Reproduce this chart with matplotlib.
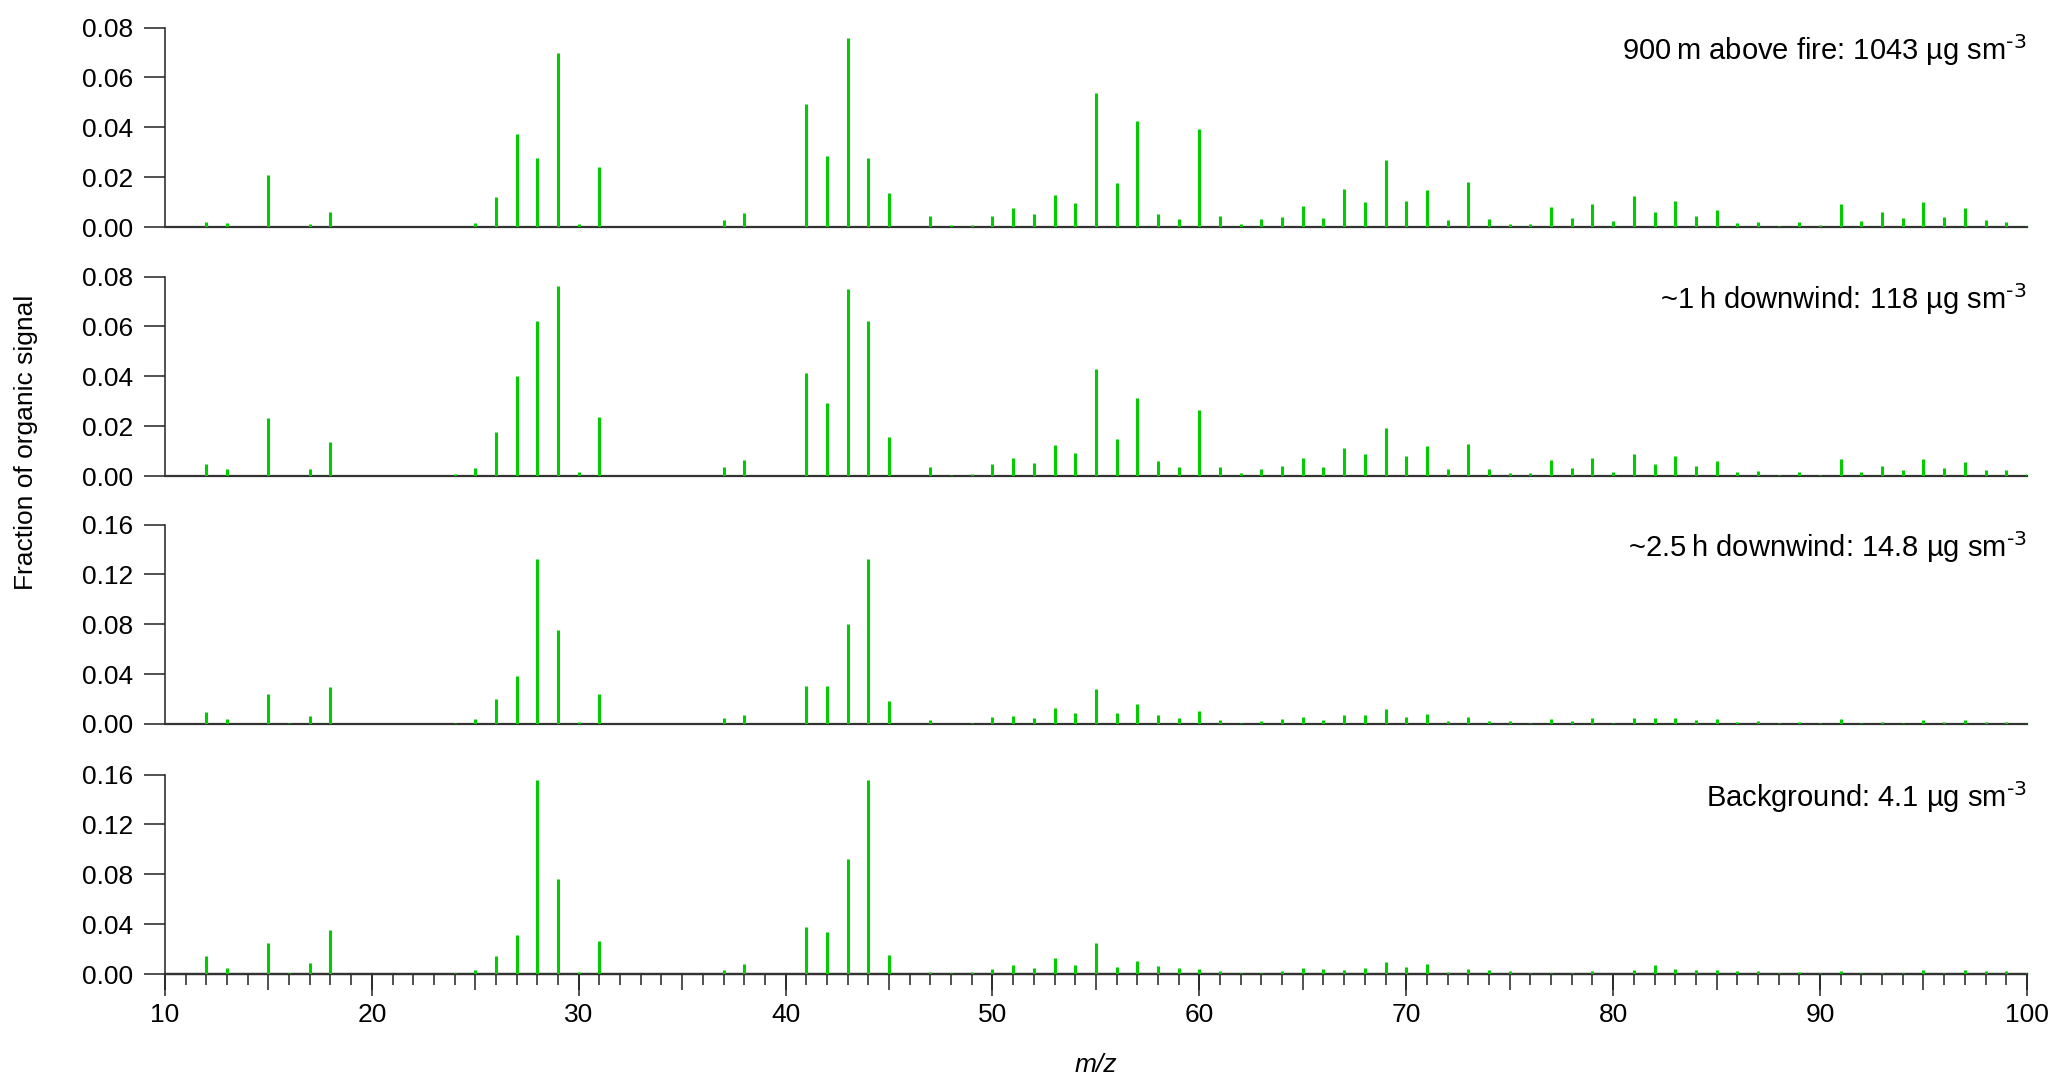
import numpy as np
import matplotlib
matplotlib.use('Agg')
import matplotlib.pyplot as plt
from matplotlib.ticker import MultipleLocator, FormatStrFormatter

plt.rcParams['font.family'] = ['Liberation Sans', 'DejaVu Sans']
plt.rcParams['mathtext.default'] = 'regular'

# m/z 12 .. 100
mz = list(range(12, 101))

# 900 m above fire
above_fire = [
    0.0019, 0.0016, 0, 0.0207, 0, 0.0013, 0.0060, 0, 0, 0,
    0, 0, 0.0002, 0.0017, 0.0119, 0.0374, 0.0277, 0.0697, 0.0013, 0.0239,
    0, 0, 0, 0, 0, 0.0027, 0.0056, 0, 0, 0.0495,
    0.0283, 0.0760, 0.0277, 0.0137, 0, 0.0043, 0.0007, 0.0007, 0.0043, 0.0078,
    0.0052, 0.0130, 0.0097, 0.0537, 0.0177, 0.0424, 0.0054, 0.0031, 0.0392, 0.0046,
    0.0013, 0.0031, 0.0039, 0.0085, 0.0036, 0.0153, 0.0101, 0.0268, 0.0105, 0.0149,
    0.0028, 0.0181, 0.0034, 0.0011, 0.0011, 0.0079, 0.0035, 0.0091, 0.0026, 0.0126,
    0.0060, 0.0103, 0.0046, 0.0067, 0.0016, 0.0020, 0.0005, 0.0020, 0.0007, 0.0093,
    0.0023, 0.0060, 0.0035, 0.0101, 0.0040, 0.0077, 0.0028, 0.0020, 0.0005,
]

# ~1 h downwind
downwind_1h = [
    0.0048, 0.0028, 0, 0.0231, 0, 0.0030, 0.0137, 0, 0, 0,
    0, 0, 0.0007, 0.0031, 0.0177, 0.0403, 0.0621, 0.0764, 0.0015, 0.0235,
    0, 0, 0, 0, 0, 0.0036, 0.0065, 0, 0, 0.0415,
    0.0292, 0.0748, 0.0621, 0.0155, 0, 0.0038, 0.0005, 0.0009, 0.0048, 0.0074,
    0.0054, 0.0126, 0.0093, 0.0428, 0.0147, 0.0312, 0.0060, 0.0035, 0.0266, 0.0038,
    0.0012, 0.0028, 0.0039, 0.0073, 0.0036, 0.0114, 0.0090, 0.0194, 0.0082, 0.0121,
    0.0028, 0.0128, 0.0028, 0.0012, 0.0012, 0.0066, 0.0031, 0.0071, 0.0017, 0.0090,
    0.0050, 0.0079, 0.0040, 0.0059, 0.0015, 0.0019, 0.0005, 0.0016, 0.0005, 0.0070,
    0.0017, 0.0040, 0.0026, 0.0069, 0.0034, 0.0058, 0.0026, 0.0023, 0.0007,
]

# ~2.5 h downwind
downwind_2h5 = [
    0.0096, 0.0043, 0, 0.0244, 0.0005, 0.0067, 0.0295, 0, 0, 0,
    0, 0, 0.0008, 0.0038, 0.0204, 0.0383, 0.1327, 0.0750, 0.0016, 0.0239,
    0, 0, 0, 0, 0, 0.0048, 0.0070, 0, 0, 0.0308,
    0.0308, 0.0801, 0.1327, 0.0185, 0, 0.0030, 0.0003, 0.0008, 0.0054, 0.0062,
    0.0046, 0.0126, 0.0086, 0.0279, 0.0091, 0.0158, 0.0070, 0.0046, 0.0105, 0.0030,
    0.0011, 0.0027, 0.0040, 0.0054, 0.0032, 0.0070, 0.0072, 0.0118, 0.0054, 0.0080,
    0.0021, 0.0056, 0.0024, 0.0021, 0.0011, 0.0043, 0.0021, 0.0046, 0.0005, 0.0051,
    0.0046, 0.0046, 0.0032, 0.0040, 0.0016, 0.0021, 0.0005, 0.0013, 0.0005, 0.0038,
    0.0008, 0.0016, 0.0008, 0.0035, 0.0019, 0.0030, 0.0016, 0.0019, 0.0008,
]

# background
background = [
    0.0144, 0.0051, 0, 0.0246, 0.0005, 0.0086, 0.0350, 0, 0, 0,
    0, 0, 0.0005, 0.0035, 0.0147, 0.0313, 0.1560, 0.0765, 0.0016, 0.0268,
    0, 0, 0, 0, 0, 0.0035, 0.0078, 0, 0, 0.0377,
    0.0337, 0.0926, 0.1560, 0.0155, 0, 0.0013, 0.0005, 0.0013, 0.0040, 0.0075,
    0.0048, 0.0126, 0.0075, 0.0249, 0.0054, 0.0104, 0.0067, 0.0045, 0.0040, 0.0027,
    0.0005, 0.0005, 0.0024, 0.0048, 0.0043, 0.0032, 0.0051, 0.0099, 0.0059, 0.0080,
    0.0019, 0.0037, 0.0032, 0.0024, 0.0008, 0.0005, 0.0005, 0.0024, 0.0003, 0.0032,
    0.0070, 0.0043, 0.0032, 0.0035, 0.0021, 0.0024, 0.0005, 0.0019, 0.0005, 0.0021,
    0.0005, 0.0005, 0.0005, 0.0032, 0.0011, 0.0032, 0.0021, 0.0021, 0.0005,
]

series = [above_fire, downwind_1h, downwind_2h5, background]
labels = [
    '900\u2009m above fire: 1043 \u00b5g sm$^{\\text{-3}}$',
    '~1\u2009h downwind: 118 \u00b5g sm$^{\\text{-3}}$',
    '~2.5\u2009h downwind: 14.8 \u00b5g sm$^{\\text{-3}}$',
    'Background: 4.1 \u00b5g sm$^{\\text{-3}}$',
]
y_tops = [0.08, 0.08, 0.16, 0.16]

green = '#00cc00'
dark = '#222222'

fig = plt.figure(figsize=(20.67, 10.9), dpi=100)
bottoms = [0.7917, 0.5633, 0.3358, 0.1064]

for i in range(4):
    ax = fig.add_axes([0.0798, bottoms[i], 0.9008, 0.183])
    ax.vlines(mz, 0, series[i], color=green, lw=2.2, zorder=3)
    ax.set_xlim(10, 100)
    ax.set_ylim(0, y_tops[i])
    ax.spines[['top', 'right']].set_visible(False)
    ax.spines['left'].set_color(dark)
    ax.spines['left'].set_linewidth(1.1)
    ax.spines['bottom'].set_color('#333333')
    ax.spines['bottom'].set_linewidth(1.6)
    ax.set_yticks(np.linspace(0, y_tops[i], 5))
    ax.yaxis.set_major_formatter(FormatStrFormatter('%.2f'))
    ax.tick_params(axis='y', direction='out', length=15, width=1.1, pad=8,
                   labelsize=19, color=dark)
    ax.text(1.0, 0.836, labels[i], transform=ax.transAxes, ha='right',
            va='baseline', fontsize=21)

    if i < 3:
        ax.tick_params(axis='x', which='both', bottom=False, labelbottom=False)
    else:
        # minor ticks every 1, medium every 5, long ones with labels every 10
        ax.xaxis.set_major_locator(MultipleLocator(5))
        ax.xaxis.set_minor_locator(MultipleLocator(1))
        ax.tick_params(axis='x', which='major', direction='out', length=11.5,
                       width=1.1, color=dark, labelbottom=False)
        ax.tick_params(axis='x', which='minor', direction='out', length=7.9,
                       width=1.1, color=dark)
        sec = ax.secondary_xaxis('bottom')
        sec.set_xticks(range(10, 101, 10))
        sec.tick_params(axis='x', direction='out', length=15.8, width=1.1,
                        color=dark, labelsize=19, pad=5)
        sec.spines['bottom'].set_color('#333333')
        sec.spines['bottom'].set_linewidth(1.6)

fig.text(0.5303, 0.023, 'm/z', ha='center', va='center', fontsize=19,
         style='italic')
fig.text(0.0126, 0.594, 'Fraction of organic signal', rotation=90,
         ha='center', va='center', fontsize=19)

plt.savefig('out.png', dpi=100)
plt.close()
